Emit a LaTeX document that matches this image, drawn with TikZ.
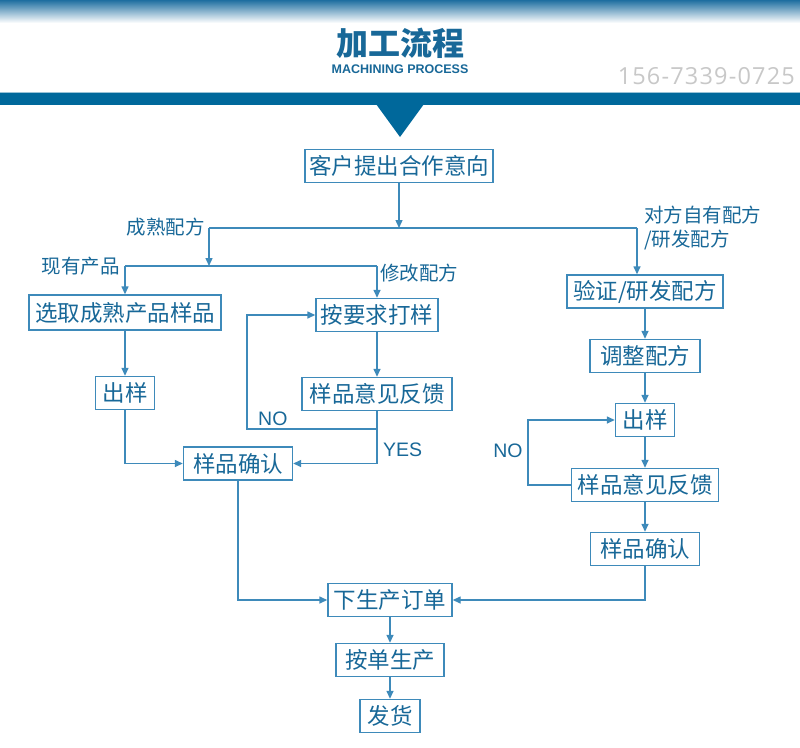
\documentclass[tikz,border=0pt]{standalone}
\usepackage{fontspec}
\setmainfont{Noto Sans CJK SC}
\newfontfamily\latinfont{Liberation Sans}
\newfontfamily\phonefont{Open Sans}[LetterSpace=5]
\usetikzlibrary{arrows.meta}
\definecolor{lc}{RGB}{62,138,186}
\definecolor{tc}{RGB}{24,104,152}
\definecolor{barc}{RGB}{0,104,155}
\definecolor{hb}{RGB}{30,110,160}
\definecolor{phonec}{RGB}{200,200,200}
\begin{document}
\begin{tikzpicture}[x=1pt,y=-1pt,
  box/.style={draw=lc, line width=1.4pt, text=tc, font=\fontsize{22.5}{25}\selectfont, minimum height=33pt, inner sep=0pt},
  lab/.style={text=tc, font=\fontsize{19.5}{22}\selectfont, inner sep=0pt},
  yn/.style={text=tc, font=\latinfont\fontsize{19.5}{22}\selectfont, inner sep=0pt},
  conn/.style={draw=lc, line width=1.4pt},
  arr/.style={conn, -{Triangle[length=8pt,width=7pt]}},
]
\useasboundingbox (0,0) rectangle (800,747);
\fill[white] (0,0) rectangle (800,747);
\shade[top color=hb, bottom color=white] (0,0) rectangle (800,23);
\fill[barc!40] (0,91.5) rectangle (800,93);
\fill[barc] (0,93) rectangle (800,105);
\fill[barc] (376,104) -- (424,104) -- (400,137) -- cycle;
\node[text=tc, font=\fontsize{32}{36}\selectfont\bfseries, inner sep=0pt] (title) at (400,43) {加工流程};
\node[text=tc, font=\latinfont\bfseries\fontsize{12.5}{14}\selectfont, inner sep=0pt] (sub) at (400,69) {MACHINING PROCESS};
\node[text=phonec, font=\phonefont\fontsize{23.5}{28}\selectfont, anchor=east, inner sep=0pt] (phone) at (795,76) {156-7339-0725};

% boxes
\node[box, minimum width=188pt] (n1) at (399,166) {客户提出合作意向};
\node[box, minimum width=192pt, minimum height=35pt] (n2) at (125,312.5) {选取成熟产品样品};
\node[box, minimum width=122pt] (n3) at (377,315) {按要求打样};
\node[box, minimum width=156pt] (n4) at (645,291.5) {验证/研发配方};
\node[box, minimum width=110pt] (n5) at (645,356) {调整配方};
\node[box, minimum width=59pt] (n6) at (125,393) {出样};
\node[box, minimum width=150pt] (n7) at (377,394) {样品意见反馈};
\node[box, minimum width=109pt] (n8) at (238,463.5) {样品确认};
\node[box, minimum width=59pt] (n9) at (645,420) {出样};
\node[box, minimum width=147pt] (n10) at (645,485) {样品意见反馈};
\node[box, minimum width=109pt] (n11) at (645,549) {样品确认};
\node[box, minimum width=124pt] (n12) at (390,600) {下生产订单};
\node[box, minimum width=108pt] (n13) at (390,660) {按单生产};
\node[box, minimum width=60pt] (n14) at (390,716) {发货};

% labels
\node[lab, anchor=east] (l1) at (205,227) {成熟配方};
\node[lab, anchor=east] (l2) at (120,266) {现有产品};
\node[lab, anchor=west] (l3) at (380,273) {修改配方};
\node[lab, anchor=west] (l4) at (644,215) {对方自有配方};
\node[lab, anchor=west] (l5) at (644,240) {/研发配方};
\node[yn, anchor=west] (no1) at (258,419) {NO};
\node[yn, anchor=west] (yes1) at (383,450) {YES};
\node[yn] (no2) at (508,451) {NO};

% junctions
\coordinate (j1) at (399,228);
\coordinate (jL) at (209,228);
\coordinate (jR) at (637,228);
\coordinate (j2) at (209,266);
\coordinate (j2L) at (125,266);
\coordinate (j2R) at (377,266);
\coordinate (lb) at (377,429);
\coordinate (ll) at (247,429);
\coordinate (rl) at (528,485);

% connectors
\draw[arr] (n1.south) -- (j1);
\draw[conn] (jL) -- (jR);
\draw[arr] (jL) -- (j2);
\draw[conn] (j2L) -- (j2R);
\draw[arr] (j2L) -- (n2.north);
\draw[arr] (j2R) -- (n3.north);
\draw[arr] (jR) -- (jR |- n4.north);
\draw[arr] (n4) -- (n5);
\draw[arr] (n5) -- (n9);
\draw[arr] (n9) -- (n10);
\draw[arr] (n10) -- (n11);
\draw[arr] (n10.west) -- (rl) |- (n9.west);
\draw[arr] (n2) -- (n6);
\draw[arr] (n6.south) |- (n8.west);
\draw[arr] (n3) -- (n7);
\draw[arr] (n7.south) |- (n8.east);
\draw[arr] (lb) -- (ll) |- (n3.west);
\draw[arr] (n8.south) |- (n12.west);
\draw[arr] (n11.south) |- (n12.east);
\draw[arr] (n12) -- (n13);
\draw[arr] (n13) -- (n14);
\end{tikzpicture}
\end{document}
